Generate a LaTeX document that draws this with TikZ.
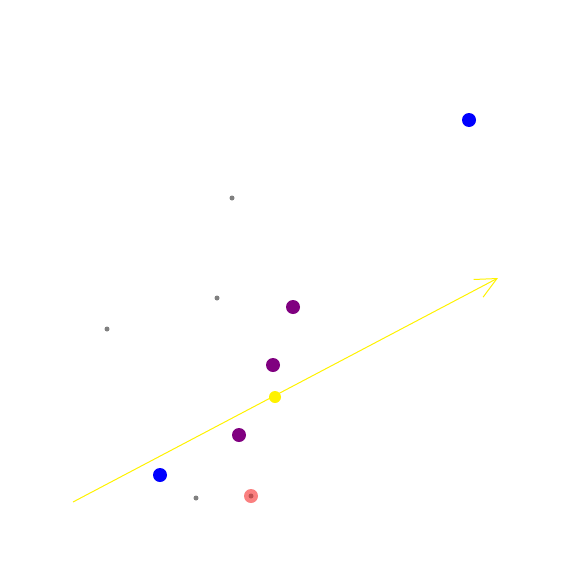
\documentclass[tikz,border=0pt]{standalone}
\usetikzlibrary{arrows.meta}
\definecolor{ppurple}{RGB}{128,0,128}
\definecolor{pgray}{RGB}{128,128,128}
\definecolor{lightred}{RGB}{250,128,128}
\definecolor{darkred}{RGB}{190,80,80}
\begin{document}
\begin{tikzpicture}[x=1pt,y=-1pt,
  bigdot/.style={circle,inner sep=0pt,minimum size=14pt,fill=#1},
  smalldot/.style={circle,inner sep=0pt,minimum size=5pt,fill=pgray},
  vec/.style={draw=yellow,line width=1pt,-{Straight Barb[length=21pt,width=20pt,line width=1pt]}}]
\useasboundingbox (0,0) rectangle (576,576);
\node[bigdot=blue] (b1) at (469,120) {};
\node[bigdot=blue] (b2) at (160,475) {};
\node[smalldot] (g1) at (232,198) {};
\node[smalldot] (g2) at (217,298) {};
\node[smalldot] (g3) at (107,329) {};
\node[smalldot] (g4) at (196,498) {};
\node[bigdot=ppurple] (p1) at (293,307) {};
\node[bigdot=ppurple] (p2) at (273,365) {};
\node[bigdot=ppurple] (p3) at (239,435) {};
\node[bigdot=yellow,minimum size=12pt] (y1) at (275,397) {};
\node[bigdot=lightred] (r1) at (251,496) {};
\node[circle,inner sep=0pt,minimum size=5pt,fill=darkred] (r2) at (251,496) {};
\coordinate (a0) at (73,502);
\coordinate (a1) at (498,278);
\draw[vec] (a0) -- (a1);
\end{tikzpicture}
\end{document}
